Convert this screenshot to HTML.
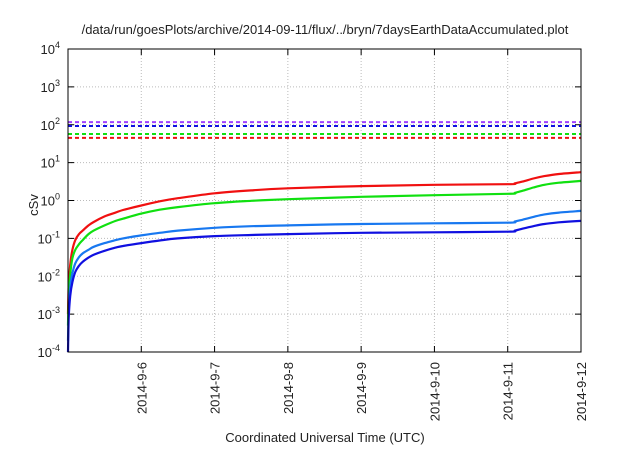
<!DOCTYPE html>
<html><head><meta charset="utf-8"><style>
body{margin:0;background:#fff;}
svg text{font-family:"Liberation Sans",sans-serif;fill:#222;}
</style></head><body>
<svg id="c" width="640" height="448">
<text x="325" y="34" font-size="13" text-anchor="middle">/data/run/goesPlots/archive/2014-09-11/flux/../bryn/7daysEarthDataAccumulated.plot</text>
<text x="325" y="442" font-size="13" text-anchor="middle">Coordinated Universal Time (UTC)</text>
<text transform="translate(38,205) rotate(-90)" font-size="13" text-anchor="middle">cSv</text>
<g id="g"></g>
</svg>
<script>
const xTickLabels=["2014-9-6","2014-9-7","2014-9-8","2014-9-9","2014-9-10","2014-9-11","2014-9-12"];
const yExps=[-4,-3,-2,-1,0,1,2,3,4];
const times=[0,0.01,0.03,0.06,0.1,0.15,0.2,0.28,0.35,0.5,0.65,0.75,1,1.25,1.5,2,2.5,3,4,5,6,6.1,6.2,6.35,6.5,6.7,7];
const red=[0.001,0.006,0.02,0.05,0.09,0.13,0.16,0.22,0.27,0.38,0.48,0.56,0.74,0.95,1.15,1.55,1.85,2.1,2.4,2.6,2.7,2.85,3.15,3.8,4.4,5.0,5.6];
const green=[0.0005,0.003,0.011,0.03,0.05,0.07,0.09,0.13,0.16,0.22,0.29,0.33,0.45,0.57,0.67,0.85,0.98,1.08,1.25,1.38,1.5,1.6,1.8,2.2,2.6,2.95,3.3];
const lightBlue=[0.0002,0.0015,0.005,0.012,0.022,0.032,0.04,0.05,0.06,0.075,0.09,0.1,0.12,0.14,0.16,0.19,0.21,0.22,0.24,0.25,0.26,0.28,0.31,0.37,0.43,0.48,0.53];
const darkBlue=[0.0001,0.0008,0.003,0.007,0.013,0.019,0.024,0.031,0.037,0.047,0.057,0.063,0.075,0.088,0.1,0.115,0.123,0.13,0.14,0.145,0.15,0.16,0.18,0.21,0.24,0.265,0.29];
const limits=[117,93,57,45];
const limitColors=["#a040ff","#1010e0","#10e010","#f01010"];
const L=68,R=581,T=49,B=352;
const xs=d=>L+(R-L)*d/7;
const ys=v=>T+(4-Math.log10(v))*(B-T)/8;
const g=document.getElementById('g');
const NS="http://www.w3.org/2000/svg";
function mk(t,a){const e=document.createElementNS(NS,t);for(const k in a)e.setAttribute(k,a[k]);g.appendChild(e);return e;}
yExps.forEach(p=>{const y=ys(Math.pow(10,p));
 if(p>-4&&p<4){const l=mk('line',{x1:L,x2:R,y1:y,y2:y,stroke:'#bbb','stroke-dasharray':'1,2','stroke-width':1});
 
 }
 const t1=mk('line',{x1:L,x2:L+6,y1:y,y2:y,stroke:'#000'});
 
 
 const t2=mk('line',{x1:R-6,x2:R,y1:y,y2:y,stroke:'#000'});
 
 
 const tx=mk('text',{x:L-8,y:y+5,'font-size':13,'text-anchor':'end'});
 tx.innerHTML='10<tspan dy="-6" font-size="9">'+p+'</tspan>';
 
 
});
xTickLabels.forEach((s,i)=>{const x=xs(i+1);
 if(i<6){const l=mk('line',{x1:x,x2:x,y1:T,y2:B,stroke:'#bbb','stroke-dasharray':'1,2'});
 
 }
 const t1=mk('line',{x1:x,x2:x,y1:B,y2:B-6,stroke:'#000'});
 
 
 const t2=mk('line',{x1:x,x2:x,y1:T,y2:T+6,stroke:'#000'});
 
 
 const tx=mk('text',{transform:`translate(${x+5},362) rotate(-90)`,'font-size':13,'text-anchor':'end'});
 tx.textContent=s;
 
 
});
limits.forEach((v,i)=>{const y=ys(v);
 const l=mk('line',{x1:L,x2:R,y1:y,y2:y,stroke:limitColors[i],'stroke-width':2,'stroke-dasharray':'4,3'});
 
 
});
function smoothPath(P){let d='M'+P[0][0].toFixed(1)+','+P[0][1].toFixed(1);
 for(let i=0;i<P.length-1;i++){const p0=P[Math.max(i-1,0)],p1=P[i],p2=P[i+1],p3=P[Math.min(i+2,P.length-1)];
  const c1=[p1[0]+(p2[0]-p0[0])/6,p1[1]+(p2[1]-p0[1])/6],c2=[p2[0]-(p3[0]-p1[0])/6,p2[1]-(p3[1]-p1[1])/6];
  d+=` C${c1[0].toFixed(1)},${c1[1].toFixed(1)} ${c2[0].toFixed(1)},${c2[1].toFixed(1)} ${p2[0].toFixed(1)},${p2[1].toFixed(1)}`;}
 return d;}
[[red,'#f01010','red-series'],[green,'#10e010','green-series'],[lightBlue,'#1878f0','light-blue-series'],[darkBlue,'#1010e0','dark-blue-series']].forEach(([arr,c,n])=>{
 const P=arr.map((v,i)=>[xs(times[i]),ys(v)]);
 const p=mk('path',{d:smoothPath(P),fill:'none',stroke:c,'stroke-width':2.2,'stroke-linejoin':'round'});
 
 
});
const f=mk('rect',{x:L,y:T,width:R-L,height:B-T,fill:'none',stroke:'#000','stroke-width':1});


</script>
</body></html>
